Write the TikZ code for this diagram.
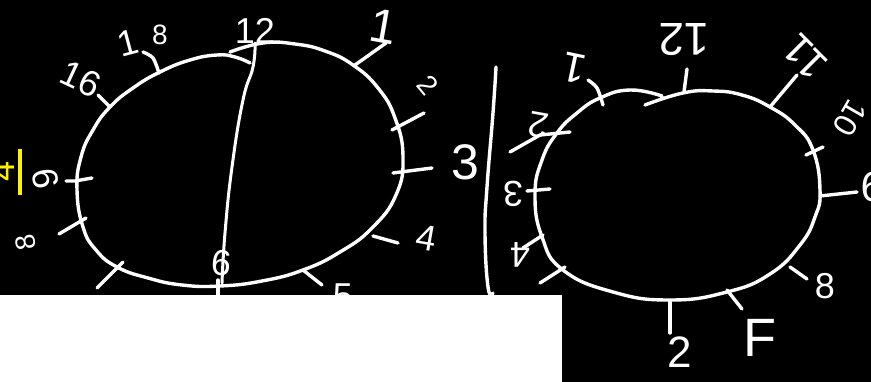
\documentclass[tikz,border=0pt]{standalone}
\usepackage{fontspec}
\setmainfont{Liberation Sans}
\usetikzlibrary{positioning}
\begin{document}
\begin{tikzpicture}[x=1pt,y=-1pt,line cap=round,line join=round,
  pen/.style={draw=white,line width=3.4pt},
  num/.style={text=white,inner sep=0pt,font=\fontsize{36}{36}\selectfont},
  smallnum/.style={num,font=\fontsize{28}{28}\selectfont}]
\fill[black] (0,0) rectangle (871,382);
\useasboundingbox (0,0) rectangle (871,382);
\clip (0,0) rectangle (871,382);
% first ring
\draw[pen] plot[smooth,tension=0.8] coordinates {(230,52) (263,43) (295,44) (325,51) (353,65) (378,88) (395,118) (403,157) (396,195) (372,228) (340,252) (303,270) (262,281) (220,286) (182,285) (148,278) (117,267) (96,250) (83,227) (77,190) (81,157) (93,130) (110,107) (133,88) (160,72) (190,60) (217,55) (235,57) (250,63)};
\draw[pen,line width=3pt] plot[smooth,tension=0.8] coordinates {(255,43) (253,67) (243,100) (232,167) (225,233) (222,283)};
% first ring ticks
\draw[pen] (98,95)--(110,107);
\draw[pen] plot[smooth] coordinates {(143,52) (153,58) (159,73)};
\draw[pen] (66,181)--(75,181)--(92,178);
\draw[pen] (59,234)--(86,218);
\draw[pen] (97,288)--(123,262);
\draw[pen] (355,65)--(386,43);
\draw[pen] (392,130)--(424,113);
\draw[pen] (393,173)--(432,168);
\draw[pen] (373,236)--(398,243);
\draw[pen] (303,270)--(322,285);
\draw[pen] (218,280)--(218,296);
% first ring labels
\node[num] (lbltwelve) at (255,31) {12};
\node[num,rotate=-10,font=\fontsize{48}{48}\selectfont] (lblone) at (384,27) {1};
\node[smallnum,rotate=-50] (lbltwo) at (428,85) {2};
\node[num,font=\fontsize{50}{50}\selectfont] (lblthree) at (465,162) {3};
\node[num,rotate=-10] (lblfour) at (427,238) {4};
\node[num] (lblfive) at (343,296) {5};
\node[num,rotate=-5] (lblsix) at (222,263) {6};
\node[num] (lblseven) at (73,309) {7};
\node[smallnum,rotate=100] (lbleight) at (26,243) {8};
\node[num,rotate=100] (lblnine) at (46,179) {9};
\node[num,rotate=-25] (lblsixteen) at (81,79) {16};
\node[num,rotate=15] (lblalone) at (128,43) {1};
\node[smallnum] (lblaeight) at (160,35) {8};
% separator
\draw[pen] plot[smooth,tension=0.8] coordinates {(496,67) (493,113) (487,187) (485,233) (488,287) (493,293)};
% second ring
\draw[pen] plot[smooth,tension=0.8] coordinates {(662,96) (630,90) (600,98) (577,113) (557,133) (542,160) (535,195) (542,237) (563,270) (613,292) (670,300) (727,292) (770,274) (800,245) (815,217) (820,190) (813,150) (795,125) (770,107) (742,95) (713,91) (683,93) (645,105)};
% second ring ticks
\draw[pen] (687,69)--(684,92);
\draw[pen] (770,107)--(797,75);
\draw[pen] (806,155)--(823,147);
\draw[pen] (820,196)--(857,192);
\draw[pen] (790,267)--(807,279);
\draw[pen] (727,290)--(742,309);
\draw[pen] (670,302)--(670,333);
\draw[pen] plot[smooth] coordinates {(588,80) (597,88) (603,105)};
\draw[pen] (510,152)--(540,135)--(570,132);
\draw[pen] (527,191)--(550,189);
\draw[pen] (523,248)--(543,235);
\draw[pen] (540,283)--(565,267);
% second ring labels
\node[num,rotate=180,font=\fontsize{46}{46}\selectfont] (rlbltwelve) at (684,40) {12};
\node[num,rotate=135,font=\fontsize{42}{42}\selectfont] (rlbleleven) at (805,57) {11};
\node[num,rotate=240,font=\fontsize{32}{32}\selectfont] (rlblten) at (850,118) {10};
\node[num,rotate=180,font=\fontsize{42}{42}\selectfont] (rlblnine) at (873,187) {9};
\node[num] (rlbleight) at (825,286) {8};
\node[num,font=\fontsize{54}{54}\selectfont] (rlblf) at (760,338) {F};
\node[num,font=\fontsize{44}{44}\selectfont] (rlbltwo) at (680,352) {2};
\node[num,rotate=168,font=\fontsize{42}{42}\selectfont] (rlblone) at (574,68) {1};
\node[num,rotate=170] (rlblatwo) at (538,125) {2};
\node[num,rotate=180] (rlblthree) at (513,194) {3};
\node[num,rotate=180] (rlblfour) at (520,255) {4};
\node[num] (rlblseven) at (540,309) {7};
% yellow note, cut off by the edge
\fill[yellow] (18,149) rectangle (22,195);
\node[num,text=yellow,rotate=90] (note) at (2,171) {4};
% cover
\fill[white] (0,295) rectangle (562,382);
\end{tikzpicture}
\end{document}
